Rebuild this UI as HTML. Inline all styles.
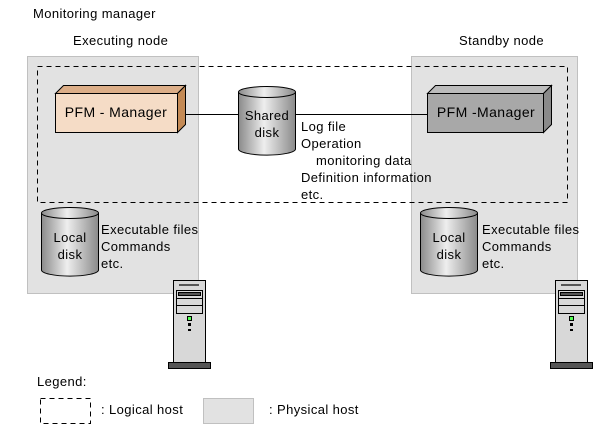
<!DOCTYPE html>
<html><head><meta charset="utf-8"><style>
html,body{margin:0;padding:0;background:#fff;}
svg{display:block;font-family:"Liberation Sans",sans-serif;font-size:13px;letter-spacing:0.4px;}
</style></head><body>
<svg width="600" height="428" viewBox="0 0 600 428" xmlns="http://www.w3.org/2000/svg">
<defs>
<linearGradient id="cyl" x1="0" x2="1" y1="0" y2="0">
<stop offset="0" stop-color="#8a8a8a"/><stop offset="0.45" stop-color="#eeeeee"/><stop offset="1" stop-color="#8a8a8a"/>
</linearGradient>
<g id="server">
<rect x="173.5" y="280.5" width="32" height="82" fill="#d8d8d8" stroke="#000"/>
<rect x="179" y="284" width="20" height="2" fill="#555"/>
<rect x="176.5" y="290.5" width="26" height="23" fill="#d8d8d8" stroke="#000"/>
<rect x="178.5" y="292.5" width="22" height="3" fill="#555" stroke="#000"/>
<line x1="176" y1="298.5" x2="202" y2="298.5" stroke="#000"/>
<line x1="176" y1="305.5" x2="202" y2="305.5" stroke="#000"/>
<rect x="187.5" y="316.5" width="4" height="4" fill="#5f5" stroke="#000"/>
<rect x="188" y="323" width="3" height="3" fill="#000"/>
<rect x="188" y="329" width="3" height="2" fill="#000"/>
<rect x="168.5" y="362.5" width="42" height="6" fill="#555" stroke="#000"/>
</g>
<g id="cylL">
<path d="M0.5,6 L0.5,63 A28,6 0 0 0 57.5,63 L57.5,6" fill="url(#cyl)" stroke="#000"/>
<ellipse cx="29" cy="6" rx="28.5" ry="5.5" fill="url(#cyl)" stroke="#000"/>
</g>
</defs>
<text x="33" y="18">Monitoring manager</text>
<text x="73" y="45">Executing node</text>
<text x="459" y="45">Standby node</text>
<rect x="27.5" y="56.5" width="171" height="237" fill="#e2e2e2" stroke="#c0c0c0"/>
<rect x="411.5" y="56.5" width="166" height="237" fill="#e2e2e2" stroke="#c0c0c0"/>
<rect x="37.5" y="66.5" width="530" height="136" fill="none" stroke="#000" stroke-dasharray="5,4"/>
<line x1="185" y1="114.5" x2="427" y2="114.5" stroke="#000"/>
<polygon points="55.5,93.5 63.5,85.5 185.5,85.5 177.5,93.5" fill="#dcae88" stroke="#000"/>
<polygon points="177.5,93.5 185.5,85.5 185.5,124.5 177.5,132.5" fill="#c48a55" stroke="#000"/>
<rect x="55.5" y="93.5" width="122" height="39" fill="#f5dcc6" stroke="#000"/>
<text x="116" y="117" text-anchor="middle" font-size="14">PFM - Manager</text>
<polygon points="427.5,93.5 435.5,85.5 551.5,85.5 543.5,93.5" fill="#bcbcbc" stroke="#000"/>
<polygon points="543.5,93.5 551.5,85.5 551.5,124.5 543.5,132.5" fill="#8a8a8a" stroke="#000"/>
<rect x="427.5" y="93.5" width="116" height="39" fill="#a8a8a8" stroke="#000"/>
<text x="486" y="117" text-anchor="middle" font-size="14">PFM -Manager</text>
<use href="#cylL" transform="translate(238,86)"/>
<text x="267" y="120" text-anchor="middle">Shared</text>
<text x="267" y="137" text-anchor="middle">disk</text>
<text x="301" y="131">Log file</text>
<text x="301" y="148">Operation</text>
<text x="316" y="165">monitoring data</text>
<text x="301" y="182">Definition information</text>
<text x="301" y="199">etc.</text>
<use href="#cylL" transform="translate(41,207)"/>
<text x="70" y="242" text-anchor="middle">Local</text>
<text x="70" y="259" text-anchor="middle">disk</text>
<text x="101" y="234">Executable files</text>
<text x="101" y="251">Commands</text>
<text x="101" y="268">etc.</text>
<use href="#cylL" transform="translate(420,207)"/>
<text x="449" y="242" text-anchor="middle">Local</text>
<text x="449" y="259" text-anchor="middle">disk</text>
<text x="482" y="234">Executable files</text>
<text x="482" y="251">Commands</text>
<text x="482" y="268">etc.</text>
<use href="#server"/>
<use href="#server" transform="translate(382,0)"/>
<text x="37" y="386">Legend:</text>
<rect x="40.5" y="398.5" width="50" height="25" fill="none" stroke="#000" stroke-dasharray="5,4"/>
<text x="101" y="414">: Logical host</text>
<rect x="203.5" y="398.5" width="50" height="25" fill="#e2e2e2" stroke="#c0c0c0"/>
<text x="269" y="414">: Physical host</text>
</svg>
</body></html>
